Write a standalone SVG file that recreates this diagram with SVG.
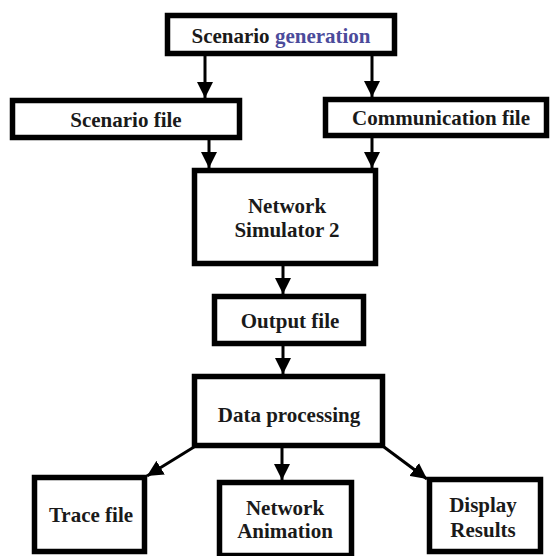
<svg xmlns="http://www.w3.org/2000/svg" width="551" height="556" viewBox="0 0 551 556">
<style>
.box{fill:#fff;stroke:#000;stroke-width:5.5}
.t{font-family:"Liberation Serif","Times New Roman",serif;font-weight:bold;font-size:21px;fill:#1a1a1a;text-anchor:middle}
.c{stroke:#000;stroke-width:3;fill:none;marker-end:url(#ah)}
</style>
<defs>
<marker id="ah" markerUnits="userSpaceOnUse" markerWidth="17" markerHeight="16" refX="16" refY="8" orient="auto" viewBox="0 0 17 16">
<path d="M0,0 L16,8 L0,16 z" fill="#000"/>
</marker>
</defs>
<rect width="551" height="556" fill="#fff"/>
<g id="connectors">
<line class="c" x1="205" y1="56" x2="205" y2="98"/>
<line class="c" x1="372" y1="56" x2="372" y2="97"/>
<line class="c" x1="209" y1="140" x2="209" y2="168"/>
<line class="c" x1="372" y1="138" x2="372" y2="168"/>
<line class="c" x1="283" y1="266" x2="283" y2="294"/>
<line class="c" x1="283" y1="346" x2="283" y2="374"/>
<line class="c" x1="194" y1="447" x2="147" y2="476"/>
<line class="c" x1="282" y1="448" x2="282" y2="480"/>
<line class="c" x1="384" y1="447" x2="427" y2="479"/>
</g>
<g id="scenario-generation">
<rect class="box" x="167.5" y="15.5" width="227" height="38"/>
<text class="t" x="281" y="43">Scenario <tspan fill="#4b4b9b">generation</tspan></text>
</g>
<g id="scenario-file">
<rect class="box" x="12.5" y="100.5" width="227" height="37"/>
<text class="t" x="126" y="127">Scenario file</text>
</g>
<g id="communication-file">
<rect class="box" x="325.5" y="99.5" width="221" height="36"/>
<text class="t" x="441" y="125">Communication file</text>
</g>
<g id="ns2">
<rect class="box" x="194.5" y="170.5" width="181" height="93"/>
<text class="t" x="287" y="213">Network</text>
<text class="t" x="287" y="237">Simulator 2</text>
</g>
<g id="output-file">
<rect class="box" x="214.5" y="296.5" width="149" height="47"/>
<text class="t" x="290" y="328">Output file</text>
</g>
<g id="data-processing">
<rect class="box" x="194.5" y="376.5" width="188" height="69"/>
<text class="t" x="289" y="422">Data processing</text>
</g>
<g id="trace-file">
<rect class="box" x="34.5" y="477.5" width="110" height="74"/>
<text class="t" x="91" y="522">Trace file</text>
</g>
<g id="network-animation">
<rect class="box" x="219.5" y="482.5" width="132" height="73"/>
<text class="t" x="285" y="515">Network</text>
<text class="t" x="285" y="538">Animation</text>
</g>
<g id="display-results">
<rect class="box" x="429.5" y="479.5" width="111" height="72"/>
<text class="t" x="483" y="512">Display</text>
<text class="t" x="483" y="537">Results</text>
</g>
</svg>
